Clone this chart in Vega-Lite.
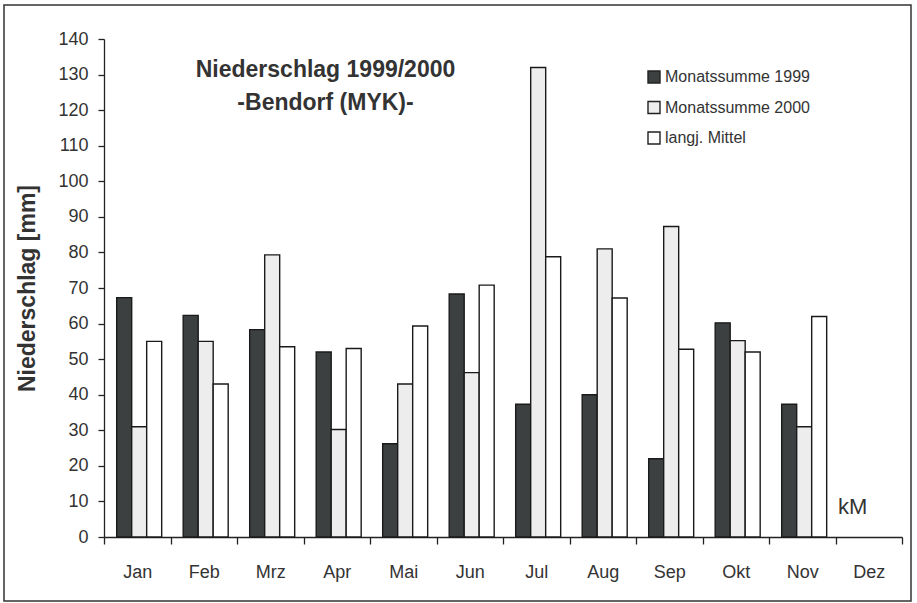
{
  "$schema": "https://vega.github.io/schema/vega-lite/v6.json",
  "width": 907,
  "height": 596,
  "autosize": {"type": "none"},
  "padding": {"left": 4, "top": 5, "right": 6, "bottom": 2},
  "background": "white",
  "config": {
    "view": {"stroke": "#333", "strokeWidth": 1.5},
    "font": "Liberation Sans"
  },
  "title": {
    "text": ["Niederschlag 1999/2000", "-Bendorf (MYK)-"],
    "orient": "top",
    "anchor": "middle",
    "frame": "group",
    "offset": 0,
    "baseline": "top",
    "dx": -132,
    "dy": 110,
    "lineHeight": 33,
    "fontSize": 23,
    "fontWeight": "bold",
    "color": "#333"
  },
  "datasets": {
    "rain": [
      {"month": "Jan", "series": "Monatssumme 1999", "value": 67.3},
      {"month": "Jan", "series": "Monatssumme 2000", "value": 31},
      {"month": "Jan", "series": "langj. Mittel", "value": 55},
      {"month": "Feb", "series": "Monatssumme 1999", "value": 62.3},
      {"month": "Feb", "series": "Monatssumme 2000", "value": 55},
      {"month": "Feb", "series": "langj. Mittel", "value": 43},
      {"month": "Mrz", "series": "Monatssumme 1999", "value": 58.3},
      {"month": "Mrz", "series": "Monatssumme 2000", "value": 79.3},
      {"month": "Mrz", "series": "langj. Mittel", "value": 53.5},
      {"month": "Apr", "series": "Monatssumme 1999", "value": 52},
      {"month": "Apr", "series": "Monatssumme 2000", "value": 30.2},
      {"month": "Apr", "series": "langj. Mittel", "value": 53},
      {"month": "Mai", "series": "Monatssumme 1999", "value": 26.2},
      {"month": "Mai", "series": "Monatssumme 2000", "value": 43},
      {"month": "Mai", "series": "langj. Mittel", "value": 59.3},
      {"month": "Jun", "series": "Monatssumme 1999", "value": 68.3},
      {"month": "Jun", "series": "Monatssumme 2000", "value": 46.2},
      {"month": "Jun", "series": "langj. Mittel", "value": 70.8},
      {"month": "Jul", "series": "Monatssumme 1999", "value": 37.3},
      {"month": "Jul", "series": "Monatssumme 2000", "value": 132},
      {"month": "Jul", "series": "langj. Mittel", "value": 78.8},
      {"month": "Aug", "series": "Monatssumme 1999", "value": 40},
      {"month": "Aug", "series": "Monatssumme 2000", "value": 81},
      {"month": "Aug", "series": "langj. Mittel", "value": 67.2},
      {"month": "Sep", "series": "Monatssumme 1999", "value": 22},
      {"month": "Sep", "series": "Monatssumme 2000", "value": 87.3},
      {"month": "Sep", "series": "langj. Mittel", "value": 52.8},
      {"month": "Okt", "series": "Monatssumme 1999", "value": 60.2},
      {"month": "Okt", "series": "Monatssumme 2000", "value": 55.2},
      {"month": "Okt", "series": "langj. Mittel", "value": 52},
      {"month": "Nov", "series": "Monatssumme 1999", "value": 37.3},
      {"month": "Nov", "series": "Monatssumme 2000", "value": 31},
      {"month": "Nov", "series": "langj. Mittel", "value": 62}
    ],
    "note": [
      {"month": "Dez", "value": 8.4, "label": "kM"}
    ]
  },
  "layer": [
    {
      "data": {"name": "rain"},
      "mark": {"type": "bar", "stroke": "#1a1a1a", "strokeWidth": 1.4},
      "encoding": {
        "x": {
          "field": "month",
          "type": "nominal",
          "sort": ["Jan", "Feb", "Mrz", "Apr", "Mai", "Jun", "Jul", "Aug", "Sep", "Okt", "Nov", "Dez"],
          "scale": {
            "domain": ["Jan", "Feb", "Mrz", "Apr", "Mai", "Jun", "Jul", "Aug", "Sep", "Okt", "Nov", "Dez"],
            "range": [100, 898],
            "paddingInner": 0,
            "paddingOuter": 0
          },
          "axis": {
            "orient": "bottom",
            "offset": -64,
            "title": null,
            "tickBand": "extent",
            "labelAngle": 0,
            "labelFontSize": 18,
            "labelColor": "#333",
            "labelPadding": 19,
            "tickSize": 7,
            "tickColor": "#222",
            "tickWidth": 1.3,
            "domainColor": "#222",
            "domainWidth": 1.3
          }
        },
        "xOffset": {
          "field": "series",
          "type": "nominal",
          "sort": ["Monatssumme 1999", "Monatssumme 2000", "langj. Mittel"],
          "scale": {
            "domain": ["Monatssumme 1999", "Monatssumme 2000", "langj. Mittel"],
            "paddingInner": 0,
            "paddingOuter": 0.717,
            "align": 0.59
          }
        },
        "y": {
          "field": "value",
          "type": "quantitative",
          "scale": {"domain": [0, 140], "range": [532, 34], "nice": false},
          "axis": {
            "orient": "left",
            "offset": -100,
            "values": [0, 10, 20, 30, 40, 50, 60, 70, 80, 90, 100, 110, 120, 130, 140],
            "grid": false,
            "title": "Niederschlag [mm]",
            "titleFontSize": 23,
            "titleFontWeight": "bold",
            "titleColor": "#333",
            "titleX": -77,
            "titleY": 283,
            "titleAngle": -90,
            "titleAlign": "center",
            "titleBaseline": "middle",
            "labelFontSize": 18,
            "labelColor": "#333",
            "labelPadding": 10,
            "tickSize": 6,
            "tickColor": "#222",
            "tickWidth": 1.3,
            "domainColor": "#222",
            "domainWidth": 1.3
          }
        },
        "fill": {
          "field": "series",
          "type": "nominal",
          "scale": {
            "domain": ["Monatssumme 1999", "Monatssumme 2000", "langj. Mittel"],
            "range": ["#3c4040", "#ededed", "#ffffff"]
          },
          "legend": {
            "orient": "none",
            "legendX": 642,
            "legendY": 64,
            "title": null,
            "symbolType": "square",
            "symbolSize": 144,
            "symbolStrokeColor": "#222",
            "symbolStrokeWidth": 1.4,
            "labelFontSize": 16,
            "labelColor": "#333",
            "labelOffset": 3,
            "rowPadding": 12.5
          }
        }
      }
    },
    {
      "data": {"name": "note"},
      "mark": {"type": "text", "fontSize": 22, "dx": -16, "color": "#333"},
      "encoding": {
        "x": {"field": "month", "type": "nominal"},
        "y": {"field": "value", "type": "quantitative"},
        "text": {"field": "label"}
      }
    }
  ]
}
